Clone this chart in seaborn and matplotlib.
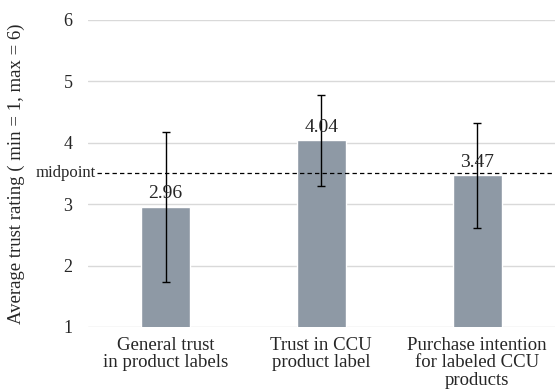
import matplotlib
matplotlib.use("Agg")
import matplotlib.pyplot as plt
import seaborn as sns
import pandas as pd

# Data
categories = ["General trust\nin product labels",
              "Trust in CCU\nproduct label",
              "Purchase intention\nfor labeled CCU\nproducts"]
means = [2.96, 4.04, 3.47]
errors = [1.22, 0.74, 0.86]
midpoint = 3.5

bar_color = "#8e99a5"
grid_color = "#d9d9d9"

sns.set_style("white")
plt.rcParams["font.family"] = ["Liberation Serif", "DejaVu Serif"]

df = pd.DataFrame({"Category": categories, "Mean": means})

fig = plt.figure(figsize=(5.55, 3.92), dpi=100)
ax = fig.add_axes([0.158, 0.166, 0.842, 0.783])

sns.barplot(data=df, x="Category", y="Mean", color=bar_color,
            saturation=1, width=0.314, errorbar=None, ax=ax)

# Error bars
ax.errorbar(range(len(means)), means, yerr=errors, fmt="none",
            ecolor="black", elinewidth=1.0, capsize=2.8, capthick=1.0, zorder=4)

# Value labels
for i, m in enumerate(means):
    ax.annotate(f"{m:.2f}", (i, m), xytext=(0, 3), textcoords="offset points",
                ha="center", va="bottom", fontsize=14, zorder=5)

# Midpoint reference line
ax.hlines(midpoint, -0.44, 2.5, colors="black", linestyles=(0, (3.5, 2.5)),
          linewidth=0.9, clip_on=False, zorder=3)
ax.text(-0.445, midpoint, "midpoint", ha="right", va="center", fontsize=12)

ax.set_ylim(1, 6)
ax.set_xlim(-0.5, 2.5)
ax.set_yticks([1, 2, 3, 4, 5, 6])
ax.yaxis.grid(True, color=grid_color, linewidth=1)
ax.set_axisbelow(True)
for s in ["top", "right", "left", "bottom"]:
    ax.spines[s].set_visible(False)

ax.tick_params(axis="y", labelsize=13, length=0, pad=11)
ax.tick_params(axis="x", labelsize=13.5, length=0, pad=7)
for lbl in ax.get_xticklabels():
    lbl.set_linespacing(1.05)
ax.set_xlabel("")
ax.set_ylabel("Average trust rating ( min = 1, max = 6)", fontsize=13.5, labelpad=14)
ax.yaxis.set_label_coords(-0.135, 0.5)

fig.savefig("out.png", dpi=100)
